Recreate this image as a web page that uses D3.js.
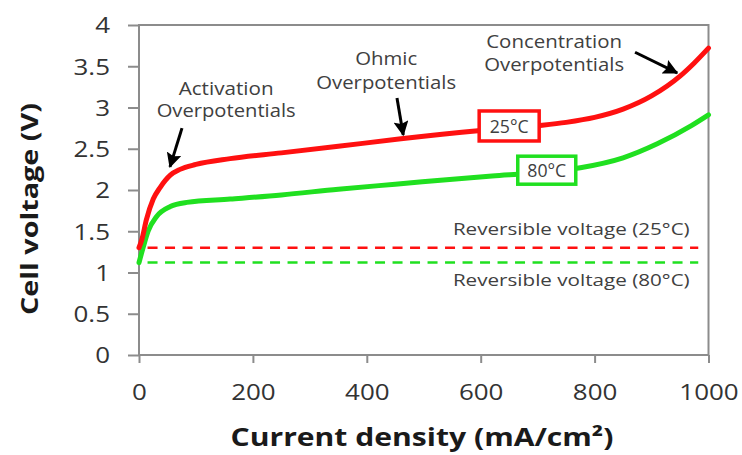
<!DOCTYPE html>
<html>
<head>
<meta charset="utf-8">
<script src="https://cdn.jsdelivr.net/npm/d3@7"></script>
<style>
  html, body { margin: 0; padding: 0; background: #ffffff; }
  svg { display: block; }
</style>
</head>
<body>
<svg id="chart" width="742" height="455"></svg>
<script>
// ---------------- DATA ----------------
const xTicks = [0, 200, 400, 600, 800, 1000];
const yTicks = [0, 0.5, 1, 1.5, 2, 2.5, 3, 3.5, 4];

// 25°C polarization curve
const current25 = [0, 5, 13, 25, 37, 55, 72, 100, 160, 250, 350, 460, 600, 700, 750, 800, 850, 900, 950, 975, 1000];
const voltage25 = [1.30, 1.40, 1.64, 1.89, 2.03, 2.18, 2.25, 2.31, 2.38, 2.45, 2.53, 2.62, 2.72, 2.78, 2.82, 2.88, 2.98, 3.14, 3.38, 3.54, 3.72];

// 80°C polarization curve
const current80 = [0, 8, 16, 31, 55, 84, 160, 250, 350, 450, 620, 700, 775, 850, 910, 970, 1000];
const voltage80 = [1.12, 1.32, 1.50, 1.68, 1.80, 1.85, 1.89, 1.94, 2.01, 2.07, 2.17, 2.21, 2.27, 2.39, 2.56, 2.78, 2.91];

// reversible voltages
const reversibleLabels = ["Reversible voltage (25°C)", "Reversible voltage (80°C)"];
const reversibleVoltage = [1.30, 1.12];
const reversibleRange = [15, 982];

const seriesLabels = ["25°C", "80°C"];
const annotationLines = [
  ["Activation", "Overpotentials"],
  ["Ohmic", "Overpotentials"],
  ["Concentration", "Overpotentials"]
];
const xTitle = "Current density (mA/cm²)";
const yTitle = "Cell voltage (V)";

// ---------------- LAYOUT ----------------
const svg = d3.select("#chart");
const mLeft = 139, mRight = 708.5, mTop = 25, mBottom = 355;
const x = d3.scaleLinear().domain([0, 1000]).range([mLeft, mRight]);
const y = d3.scaleLinear().domain([0, 4]).range([mBottom, mTop]);

const FONT = "'Open Sans', 'Noto Sans', sans-serif";
const AXIS_COLOR = "#8c8c8c";
const RED = "#ff1010";
const GREEN = "#20e020";

function addText(g, str, px, py, o) {
  const t = g.append("text")
    .attr("x", 0).attr("y", 0)
    .attr("text-anchor", o.anchor || "middle")
    .attr("font-family", FONT)
    .attr("font-size", o.size)
    .attr("font-weight", o.weight || "normal")
    .attr("fill", o.fill || "#404040")
    .text(str);
  const len = t.node().getComputedTextLength();
  const sx = o.width ? o.width / len : (o.k || 1);
  t.attr("transform", `translate(${px},${py}) rotate(${o.rotate || 0}) scale(${sx},1)`);
  return t;
}

// frame
svg.append("rect")
  .attr("x", mLeft).attr("y", mTop)
  .attr("width", mRight - mLeft).attr("height", mBottom - mTop)
  .attr("fill", "none").attr("stroke", AXIS_COLOR).attr("stroke-width", 2);

// y axis
const K = 1.18;
const gy = svg.append("g").attr("transform", `translate(${mLeft},0)`)
  .call(d3.axisLeft(y).tickValues(yTicks).tickSize(11).tickSizeOuter(0).tickFormat(d => String(d)));
gy.select(".domain").remove();
gy.selectAll(".tick line").attr("stroke", AXIS_COLOR).attr("stroke-width", 2);
gy.selectAll(".tick text")
  .attr("font-family", FONT).attr("font-size", 22).attr("fill", "#333333")
  .attr("text-anchor", "end")
  .attr("x", -29 / K).attr("dy", "0.36em")
  .attr("transform", `scale(${K},1)`);

// x axis
const gx = svg.append("g").attr("transform", `translate(0,${mBottom})`)
  .call(d3.axisBottom(x).tickValues(xTicks).tickSize(8).tickSizeOuter(0).tickFormat(d => String(d)));
gx.select(".domain").remove();
gx.selectAll(".tick line").attr("stroke", AXIS_COLOR).attr("stroke-width", 2);
gx.selectAll(".tick text")
  .attr("font-family", FONT).attr("font-size", 22).attr("fill", "#333333")
  .attr("y", 45).attr("dy", 0).attr("x", 0)
  .attr("transform", `scale(${K},1)`);

// axis titles
addText(svg, yTitle, 38, 209, { size: 24, weight: "bold", fill: "#1a1a1a", width: 212, rotate: -90 });
addText(svg, xTitle, 422, 446, { size: 25, weight: "bold", fill: "#1a1a1a", width: 383 });

// reversible voltage dashed lines
const revColors = [RED, GREEN];
reversibleVoltage.forEach((v, i) => {
  svg.append("line")
    .attr("x1", x(reversibleRange[0])).attr("x2", x(reversibleRange[1]))
    .attr("y1", y(v)).attr("y2", y(v))
    .attr("stroke", revColors[i]).attr("stroke-width", 2.5)
    .attr("stroke-dasharray", "10,7.5");
});
addText(svg, reversibleLabels[0], x(967), y(1.455), { size: 17, anchor: "end", width: 237 });
addText(svg, reversibleLabels[1], x(967), y(0.84), { size: 17, anchor: "end", width: 237 });

// curves
const line = d3.line().x(d => x(d[0])).y(d => y(d[1])).curve(d3.curveMonotoneX);
svg.append("path")
  .datum(current80.map((c, i) => [c, voltage80[i]]))
  .attr("d", line).attr("fill", "none")
  .attr("stroke", GREEN).attr("stroke-width", 5).attr("stroke-linecap", "round");
svg.append("path")
  .datum(current25.map((c, i) => [c, voltage25[i]]))
  .attr("d", line).attr("fill", "none")
  .attr("stroke", RED).attr("stroke-width", 5).attr("stroke-linecap", "round");

// series label boxes
const boxes = [
  { c: 650, v: 2.776, w: 60, h: 30, color: RED },
  { c: 716, v: 2.24, w: 58, h: 28, color: GREEN }
];
boxes.forEach((b, i) => {
  const cx = x(b.c), cy = y(b.v);
  svg.append("rect")
    .attr("x", cx - b.w / 2).attr("y", cy - b.h / 2)
    .attr("width", b.w).attr("height", b.h)
    .attr("fill", "#ffffff").attr("stroke", b.color).attr("stroke-width", 3.5);
  addText(svg, seriesLabels[i], cx, cy + 7, { size: 18, width: 39 });
});

// annotations
const annos = [
  { c: 153, v1: 3.15, v2: 2.885, w1: 95, w2: 139 },
  { c: 434, v1: 3.515, v2: 3.224, w1: 62, w2: 140 },
  { c: 729, v1: 3.72, v2: 3.44, w1: 136, w2: 140 }
];
annos.forEach((a, i) => {
  addText(svg, annotationLines[i][0], x(a.c), y(a.v1), { size: 19, width: a.w1 });
  addText(svg, annotationLines[i][1], x(a.c), y(a.v2), { size: 19, width: a.w2 });
});

// arrows
svg.append("defs").append("marker")
  .attr("id", "arrow").attr("markerUnits", "userSpaceOnUse")
  .attr("viewBox", "0 0 12 12").attr("refX", 11).attr("refY", 6)
  .attr("markerWidth", 15).attr("markerHeight", 15)
  .attr("orient", "auto")
  .append("path").attr("d", "M0,0 L12,6 L0,12 L2,6 Z").attr("fill", "#000");
const arrows = [
  { c1: 75.5, v1: 2.75, c2: 54.4, v2: 2.28 },
  { c1: 453, v1: 3.115, c2: 464, v2: 2.667 },
  { c1: 871, v1: 3.67, c2: 945, v2: 3.42 }
];
arrows.forEach(a => {
  svg.append("line")
    .attr("x1", x(a.c1)).attr("y1", y(a.v1))
    .attr("x2", x(a.c2)).attr("y2", y(a.v2))
    .attr("stroke", "#000").attr("stroke-width", 3)
    .attr("marker-end", "url(#arrow)");
});
</script>
</body>
</html>
